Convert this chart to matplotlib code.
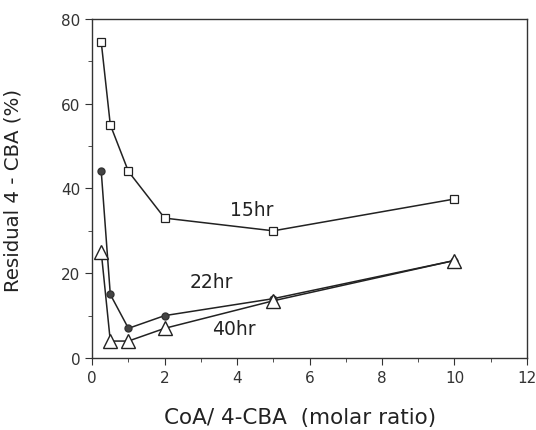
import matplotlib
matplotlib.use("Agg")
import matplotlib.pyplot as plt
from matplotlib.ticker import MultipleLocator

plt.rcParams["font.family"] = ["DejaVu Sans"]

# CoA / 4-CBA molar ratio
ratio = [0.25, 0.5, 1.0, 2.0, 5.0, 10.0]
residual_15hr = [74.5, 55.0, 44.0, 33.0, 30.0, 37.5]
residual_22hr = [44.0, 15.0, 7.0, 10.0, 14.0, 23.0]
residual_40hr = [25.0, 4.0, 4.0, 7.0, 13.5, 23.0]

labels = ["15hr", "22hr", "40hr"]
label_pos = [(4.4, 35.0), (3.3, 18.0), (3.9, 7.0)]


def main() -> None:
    fig = plt.figure(figsize=(5.36, 4.31), dpi=100, facecolor="white")
    ax = fig.add_axes([0.172, 0.167, 0.811, 0.787])

    line_kw = dict(color="#222222", linewidth=1.1)
    ax.plot(ratio, residual_15hr, marker="s", markersize=5.5,
            markerfacecolor="white", markeredgecolor="#222222",
            markeredgewidth=0.9, **line_kw)
    ax.plot(ratio, residual_22hr, marker="o", markersize=5,
            markerfacecolor="#444444", markeredgecolor="#333333", **line_kw)
    ax.plot(ratio, residual_40hr, marker="^", markersize=10,
            markerfacecolor="white", markeredgecolor="#222222",
            markeredgewidth=1.0, **line_kw)

    for text, (x, y) in zip(labels, label_pos):
        ax.text(x, y, text, fontsize=13.5, ha="center", va="center",
                color="#222222")

    ax.set_xlim(0, 12)
    ax.set_ylim(0, 80)
    ax.xaxis.set_major_locator(MultipleLocator(2))
    ax.xaxis.set_minor_locator(MultipleLocator(1))
    ax.yaxis.set_major_locator(MultipleLocator(20))
    ax.yaxis.set_minor_locator(MultipleLocator(10))
    ax.tick_params(which="both", direction="out", color="#333333",
                   labelsize=11, labelcolor="#333333")
    ax.tick_params(which="major", length=5)
    ax.tick_params(which="minor", length=3)
    for spine in ax.spines.values():
        spine.set_color("#333333")
        spine.set_linewidth(1.0)

    ax.set_xlabel("CoA/ 4-CBA  (molar ratio)", fontsize=15.5, color="#222222")
    ax.set_ylabel("Residual 4 - CBA (%)", fontsize=14.2, color="#222222")
    ax.xaxis.set_label_coords(0.478, -0.145)
    ax.yaxis.set_label_coords(-0.161, 0.496)

    fig.savefig("out.png", dpi=100, facecolor="white")
    plt.close(fig)


if __name__ == "__main__":
    main()
